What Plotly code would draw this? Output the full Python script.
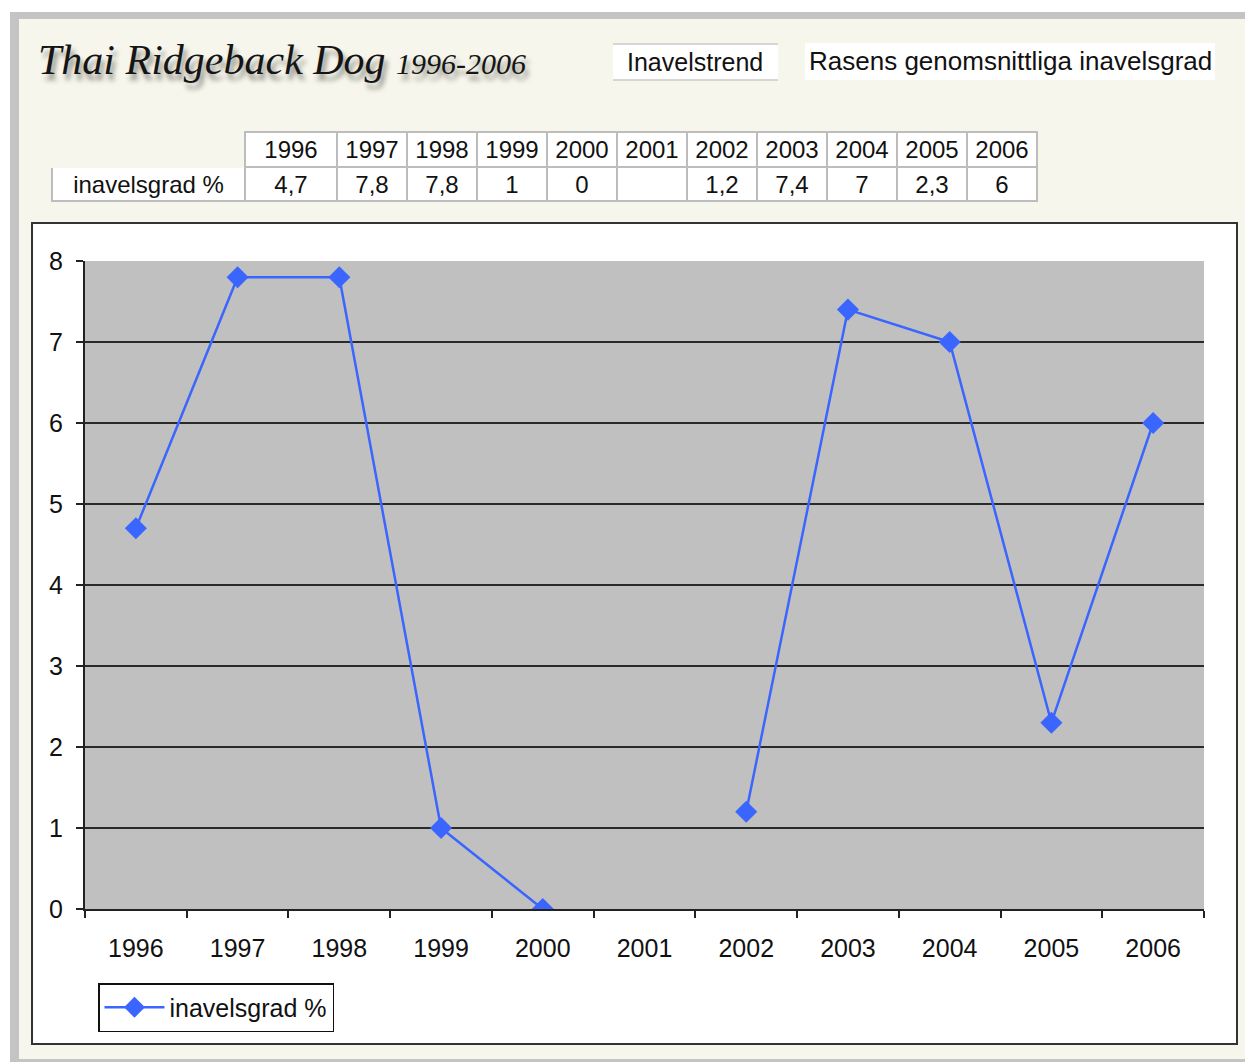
import plotly.graph_objects as go

# ---- data ----
years = ["1996", "1997", "1998", "1999", "2000", "2001", "2002", "2003", "2004", "2005", "2006"]
inavelsgrad = [4.7, 7.8, 7.8, 1, 0, None, 1.2, 7.4, 7, 2.3, 6]
series_name = "inavelsgrad %"
y_ticks = [0, 1, 2, 3, 4, 5, 6, 7, 8]

W, H = 1245, 1062
CREAM = "#F6F6EC"
BLUE = "#3A66FF"
FONT = "Liberation Sans, Arial, sans-serif"


def px(x):
    return x / W


def py(y):
    return 1 - y / H


def fmt(v):
    if v is None:
        return ""
    return f"{v:g}".replace(".", ",")


fig = go.Figure()

# data table above the chart
header_vals = [""] + years
cell_vals = [[series_name]] + [[fmt(v)] for v in inavelsgrad]
fig.add_trace(go.Table(
    domain=dict(x=[px(52), px(1037)], y=[py(206), py(132)]),
    columnwidth=[193, 92] + [70] * (len(years) - 1),
    header=dict(
        values=header_vals,
        height=35,
        align="center",
        font=dict(family=FONT, size=24, color="#111111"),
        fill=dict(color=[CREAM] + ["white"] * len(years)),
        line=dict(color=[CREAM] + ["#BDBDBD"] * len(years), width=1.5),
    ),
    cells=dict(
        values=cell_vals,
        height=34,
        align="center",
        font=dict(family=FONT, size=24, color="#111111"),
        fill=dict(color="white"),
        line=dict(color="#BDBDBD", width=1.5),
    ),
))

fig.add_trace(go.Scatter(
    x=years,
    y=inavelsgrad,
    mode="lines+markers",
    name=series_name,
    connectgaps=False,
    line=dict(color=BLUE, width=2.5),
    marker=dict(symbol="diamond", size=17, color=BLUE),
))

shapes = [
    # outer gray frame + cream page
    dict(type="rect", xref="paper", yref="paper", x0=px(10), x1=1, y0=0, y1=py(12),
         fillcolor="#C4C4C4", line=dict(width=0), layer="below"),
    dict(type="rect", xref="paper", yref="paper", x0=px(19), x1=1, y0=py(1059), y1=py(19),
         fillcolor=CREAM, line=dict(width=0), layer="below"),
    # chart box
    dict(type="rect", xref="paper", yref="paper", x0=px(32), x1=px(1237), y0=py(1044), y1=py(223),
         fillcolor="white", line=dict(color="#333333", width=2), layer="below"),
    # plot area
    dict(type="rect", xref="x domain", yref="y domain", x0=0, x1=1, y0=0, y1=1,
         fillcolor="#C0C0C0", line=dict(width=0), layer="below"),
    # header boxes
    dict(type="rect", xref="paper", yref="paper", x0=px(613), x1=px(778), y0=py(80), y1=py(44),
         fillcolor="white", line=dict(width=0), layer="below"),
    dict(type="line", xref="paper", yref="paper", x0=px(613), x1=px(778), y0=py(44), y1=py(44),
         line=dict(color="#C8C8C8", width=1.5)),
    dict(type="line", xref="paper", yref="paper", x0=px(613), x1=px(778), y0=py(80), y1=py(80),
         line=dict(color="#C8C8C8", width=1.5)),
    dict(type="rect", xref="paper", yref="paper", x0=px(805), x1=px(1215), y0=py(80), y1=py(43),
         fillcolor="white", line=dict(width=0), layer="below"),
]

annotations = [
    dict(text="Thai Ridgeback Dog <span style='font-size:30px'>1996-2006</span>",
         xref="paper", yref="paper", x=px(36), y=py(60), xanchor="left", yanchor="middle",
         showarrow=False,
         font=dict(family="Liberation Serif, DejaVu Serif, serif", size=42, color="#151515",
                   style="italic", shadow="3px 6px 5px #8a8a80")),
    dict(text="Inavelstrend", xref="paper", yref="paper", x=px(695), y=py(62),
         xanchor="center", yanchor="middle", showarrow=False,
         font=dict(family=FONT, size=25, color="#111111")),
    dict(text="Rasens genomsnittliga inavelsgrad", xref="paper", yref="paper", x=px(1010), y=py(61),
         xanchor="center", yanchor="middle", showarrow=False,
         font=dict(family=FONT, size=26, color="#111111")),
]

fig.update_layout(
    width=W, height=H,
    margin=dict(l=0, r=0, t=0, b=0, autoexpand=False),
    paper_bgcolor="white",
    plot_bgcolor="rgba(0,0,0,0)",
    shapes=shapes,
    annotations=annotations,
    showlegend=True,
    legend=dict(
        x=px(98), y=py(983), xanchor="left", yanchor="top",
        bgcolor="white", bordercolor="#111111", borderwidth=1.5,
        font=dict(family=FONT, size=25, color="#111111"),
        itemwidth=60,
    ),
    xaxis=dict(
        domain=[px(85), px(1204)],
        type="category",
        categoryorder="array", categoryarray=years,
        range=[-0.5, len(years) - 0.5],
        tickson="boundaries",
        ticks="outside", ticklen=7, tickwidth=1.5, tickcolor="#222222",
        showline=True, linecolor="#222222", linewidth=2,
        showgrid=False, zeroline=False,
        ticklabelstandoff=16,
        tickfont=dict(family=FONT, size=25, color="#111111"),
        fixedrange=True,
        automargin=False,
    ),
    yaxis=dict(
        domain=[py(909), py(261)],
        range=[0, 8],
        tickvals=y_ticks,
        ticks="outside", ticklen=7, tickwidth=1.5, tickcolor="#222222",
        showline=True, linecolor="#222222", linewidth=2,
        showgrid=True, gridcolor="#2a2a2a", gridwidth=2,
        zeroline=False,
        ticklabelstandoff=8,
        tickfont=dict(family=FONT, size=25, color="#111111"),
        fixedrange=True,
        automargin=False,
    ),
)

fig.write_html(
    "out.html",
    config={"displayModeBar": False},
    post_script="document.body.style.margin='0px';document.body.style.overflow='hidden';",
)
